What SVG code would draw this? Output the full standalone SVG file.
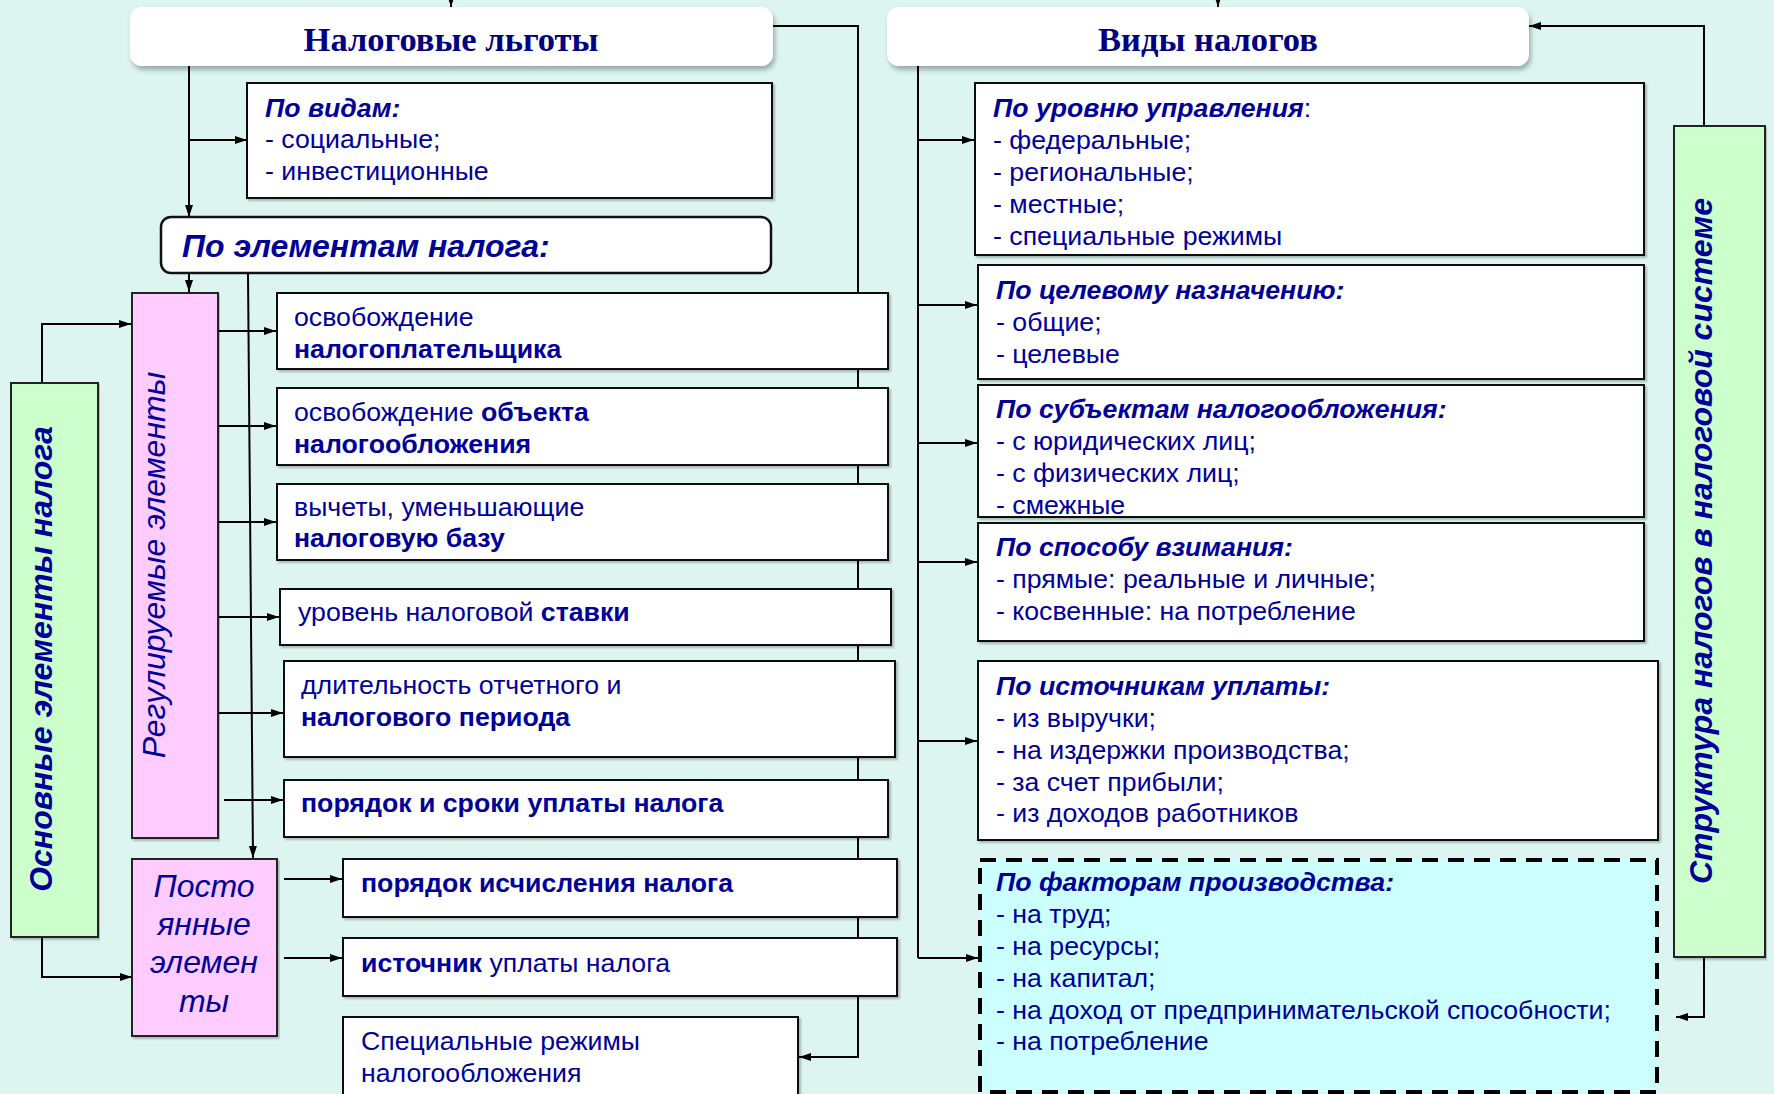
<svg xmlns="http://www.w3.org/2000/svg" width="1774" height="1094" viewBox="0 0 1774 1094">
<defs>
<marker id="ah" viewBox="0 0 12 10" refX="12" refY="5" markerWidth="12" markerHeight="10" markerUnits="userSpaceOnUse" orient="auto"><path d="M0,1 L12,5 L0,9 z" fill="#000"/></marker>
<filter id="sh" x="-5%" y="-20%" width="110%" height="150%"><feDropShadow dx="2" dy="4" stdDeviation="2.5" flood-color="#000" flood-opacity="0.3"/></filter>
<filter id="bs" x="-2%" y="-5%" width="104%" height="112%"><feDropShadow dx="2" dy="2" stdDeviation="0.8" flood-color="#000" flood-opacity="0.25"/></filter>
</defs>
<style>
.t{font-family:"Liberation Sans",Arial,sans-serif;font-size:26.7px;fill:#000099}
.b{font-weight:bold}
.bi{font-weight:bold;font-style:italic}
.i{font-style:italic}
.ttl{font-family:"Liberation Serif","Times New Roman",serif;font-size:34.5px;font-weight:bold;fill:#000080}
.box{fill:#fff;stroke:#111;stroke-width:2;filter:url(#bs)}
.hdr{fill:#fff;filter:url(#sh)}
.pink{fill:#ffccff;stroke:#222;stroke-width:2;filter:url(#bs)}
.green{fill:#ccffcc;stroke:#222;stroke-width:2;filter:url(#bs)}
.dash{fill:#ccffff;stroke:#000;stroke-width:4;stroke-dasharray:16 10}
.c{fill:none;stroke:#000;stroke-width:2}
.a{marker-end:url(#ah)}
</style>
<rect width="1774" height="1094" fill="#ddf5f0"/>

<g id="connectors">
<path class="c a" d="M451,-5 V7"/>
<path class="c a" d="M1218,-5 V7"/>
<path class="c a" d="M189,66 V217"/>
<path class="c a" d="M189,140 H247"/>
<path class="c a" d="M189,273 V292"/>
<path class="c a" d="M248,273 L253,858"/>
<path class="c a" d="M42,382 V324 H131"/>
<path class="c a" d="M42,937 V977 H132"/>
<path class="c a" d="M219,331 H276"/>
<path class="c a" d="M219,426 H276"/>
<path class="c a" d="M219,522 H276"/>
<path class="c a" d="M219,617 H279"/>
<path class="c a" d="M219,713 H283"/>
<path class="c a" d="M224,800 H283"/>
<path class="c a" d="M284,879 H342"/>
<path class="c a" d="M284,958 H342"/>
<path class="c a" d="M773,26 H858 V1057 H799"/>
<path class="c" d="M918,66 V958"/>
<path class="c a" d="M918,140 H974"/>
<path class="c a" d="M918,305 H977"/>
<path class="c a" d="M918,443 H977"/>
<path class="c a" d="M918,562 H977"/>
<path class="c a" d="M918,741 H977"/>
<path class="c a" d="M918,958 H978"/>
<path class="c a" d="M1704,126 V26 H1529"/>
<path class="c a" d="M1704,957 V1017 H1676"/>
</g>

<g id="nalogovye-lgoty">
<rect class="hdr" x="130" y="7" width="643" height="59" rx="12"/>
<text class="ttl" x="451" y="51" text-anchor="middle">Налоговые льготы</text>
</g>

<g id="vidy-nalogov">
<rect class="hdr" x="887" y="7" width="642" height="59" rx="12"/>
<text class="ttl" x="1208" y="51" text-anchor="middle">Виды налогов</text>
</g>

<g id="po-vidam">
<rect class="box" x="247" y="83" width="525" height="115"/>
<text class="t" x="265" y="117"><tspan class="bi">По видам:</tspan><tspan x="265" y="148">- социальные;</tspan><tspan x="265" y="180">- инвестиционные</tspan></text>
</g>

<g id="po-elementam">
<rect x="161" y="217" width="610" height="56" rx="10" fill="#fff" stroke="#111" stroke-width="2.5"/>
<text class="t bi" x="182" y="257" style="font-size:32px">По элементам налога:</text>
</g>

<g id="osnovnye">
<rect class="green" x="11" y="383" width="87" height="554"/>
<text class="t bi" transform="translate(52,659) rotate(-90)" text-anchor="middle" style="font-size:32px">Основные элементы налога</text>
</g>

<g id="reguliruemye">
<rect class="pink" x="132" y="293" width="86" height="545"/>
<text class="t i" transform="translate(165,565) rotate(-90)" text-anchor="middle" style="font-size:32px">Регулируемые элементы</text>
</g>

<g id="postoyannye">
<rect class="pink" x="132" y="859" width="145" height="177"/>
<text class="t i" text-anchor="middle" style="font-size:32px"><tspan x="204" y="897">Посто</tspan><tspan x="204" y="935">янные</tspan><tspan x="204" y="973">элемен</tspan><tspan x="204" y="1012">ты</tspan></text>
</g>

<g id="l1">
<rect class="box" x="277" y="293" width="611" height="76"/>
<text class="t" x="294" y="326">освобождение<tspan class="b" x="294" y="358">налогоплательщика</tspan></text>
</g>
<g id="l2">
<rect class="box" x="277" y="388" width="611" height="77"/>
<text class="t" x="294" y="421">освобождение <tspan class="b">объекта</tspan><tspan class="b" x="294" y="453">налогообложения</tspan></text>
</g>
<g id="l3">
<rect class="box" x="277" y="484" width="611" height="76"/>
<text class="t" x="294" y="516">вычеты, уменьшающие<tspan class="b" x="294" y="547">налоговую базу</tspan></text>
</g>
<g id="l4">
<rect class="box" x="280" y="589" width="611" height="56"/>
<text class="t" x="298" y="621">уровень налоговой <tspan class="b">ставки</tspan></text>
</g>
<g id="l5">
<rect class="box" x="284" y="661" width="611" height="96"/>
<text class="t" x="301" y="694">длительность отчетного и<tspan class="b" x="301" y="726">налогового периода</tspan></text>
</g>
<g id="l6">
<rect class="box" x="284" y="780" width="604" height="57"/>
<text class="t b" x="301" y="812">порядок и сроки уплаты налога</text>
</g>
<g id="l7">
<rect class="box" x="343" y="859" width="554" height="58"/>
<text class="t b" x="361" y="892">порядок исчисления налога</text>
</g>
<g id="l8">
<rect class="box" x="343" y="938" width="554" height="58"/>
<text class="t" x="361" y="972"><tspan class="b">источник</tspan> уплаты налога</text>
</g>
<g id="l9">
<rect class="box" x="343" y="1017" width="455" height="100"/>
<text class="t" x="361" y="1050">Специальные режимы<tspan x="361" y="1082">налогообложения</tspan></text>
</g>

<g id="r1">
<rect class="box" x="975" y="83" width="669" height="172"/>
<text class="t" x="993" y="117"><tspan class="bi">По уровню управления</tspan>:<tspan x="993" y="149">- федеральные;</tspan><tspan x="993" y="181">- региональные;</tspan><tspan x="993" y="213">- местные;</tspan><tspan x="993" y="245">- специальные режимы</tspan></text>
</g>
<g id="r2">
<rect class="box" x="978" y="265" width="666" height="114"/>
<text class="t" x="996" y="299"><tspan class="bi">По целевому назначению:</tspan><tspan x="996" y="331">- общие;</tspan><tspan x="996" y="363">- целевые</tspan></text>
</g>
<g id="r3">
<rect class="box" x="978" y="385" width="666" height="132"/>
<text class="t" x="996" y="418"><tspan class="bi">По субъектам налогообложения:</tspan><tspan x="996" y="450">- с юридических лиц;</tspan><tspan x="996" y="482">- с физических лиц;</tspan><tspan x="996" y="514">- смежные</tspan></text>
</g>
<g id="r4">
<rect class="box" x="978" y="523" width="666" height="118"/>
<text class="t" x="996" y="556"><tspan class="bi">По способу взимания:</tspan><tspan x="996" y="588">- прямые: реальные и личные;</tspan><tspan x="996" y="620">- косвенные: на потребление</tspan></text>
</g>
<g id="r5">
<rect class="box" x="978" y="661" width="680" height="179"/>
<text class="t" x="996" y="695"><tspan class="bi">По источникам уплаты:</tspan><tspan x="996" y="727">- из выручки;</tspan><tspan x="996" y="759">- на издержки производства;</tspan><tspan x="996" y="791">- за счет прибыли;</tspan><tspan x="996" y="822">- из доходов работников</tspan></text>
</g>
<g id="r6">
<rect class="dash" x="980" y="860" width="677" height="232"/>
<text class="t" x="996" y="891"><tspan class="bi">По факторам производства:</tspan><tspan x="996" y="923">- на труд;</tspan><tspan x="996" y="955">- на ресурсы;</tspan><tspan x="996" y="987">- на капитал;</tspan><tspan x="996" y="1019">- на доход от предпринимательской способности;</tspan><tspan x="996" y="1050">- на потребление</tspan></text>
</g>

<g id="struktura">
<rect class="green" x="1674" y="126" width="91" height="831"/>
<text class="t bi" transform="translate(1712,541) rotate(-90)" text-anchor="middle" style="font-size:32px">Структура налогов в налоговой системе</text>
</g>
</svg>
